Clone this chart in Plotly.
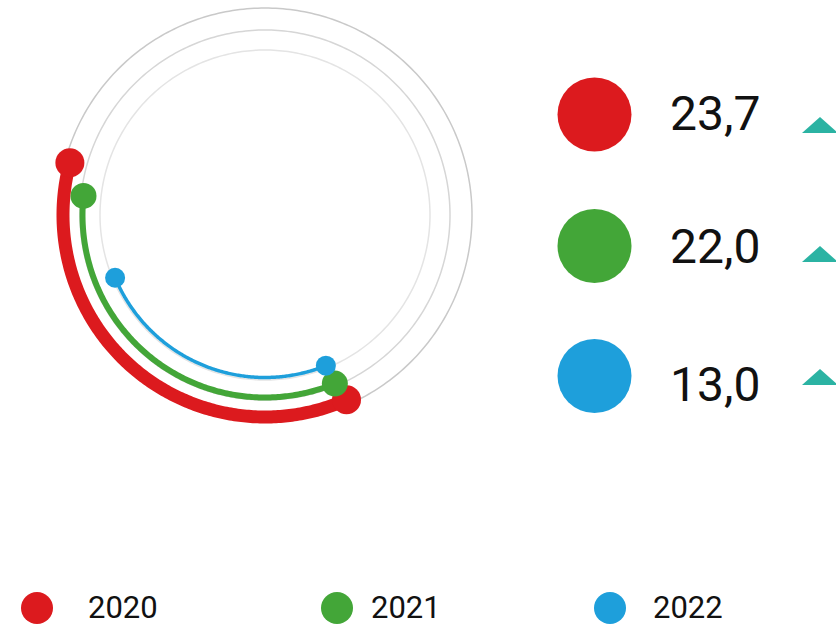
import numpy as np
import plotly.graph_objects as go

# ---- data ----
years = ["2020", "2021", "2022"]
values = [23.7, 22.0, 13.0]
arc_start_deg = [165.0, 174.0, 202.7]
arc_end_deg = [293.8, 292.5, 292.0]
series_colors = ["#dc1a1e", "#43a638", "#1e9fdb"]
trend = ["up", "up", "up"]

# ---- styling ----
W, H = 836, 628
CX, CY, RMAX = 265, 215, 210            # polar centre / radius in px
arc_radius = [202, 182.5, 162.5]
arc_width = [13, 6, 3.5]
dot_size = [29, 26, 20]
ring_radius = [207, 185, 165]
ring_color = ["#c9c9c9", "#d6d6d6", "#e4e4e4"]
TEAL = "#2bb3a3"

fig = go.Figure()

# background rings
for rr, rc in zip(ring_radius, ring_color):
    th = np.linspace(0, 360, 361)
    fig.add_trace(go.Scatterpolar(r=[rr] * len(th), theta=th, mode="lines",
                                  line=dict(color=rc, width=1.5),
                                  hoverinfo="skip", showlegend=False))

# arcs + end dots
for i in range(len(values)):
    th = np.linspace(arc_start_deg[i], arc_end_deg[i], 200)
    fig.add_trace(go.Scatterpolar(r=[arc_radius[i]] * len(th), theta=th, mode="lines",
                                  line=dict(color=series_colors[i], width=arc_width[i]),
                                  name=years[i], showlegend=False))
for i in range(len(values)):
    fig.add_trace(go.Scatterpolar(r=[arc_radius[i]] * 2,
                                  theta=[arc_start_deg[i], arc_end_deg[i]],
                                  mode="markers",
                                  marker=dict(color=series_colors[i], size=dot_size[i]),
                                  showlegend=False, hoverinfo="skip"))

# right-hand value list (pixel-coordinate overlay axis)
row_y = [114.5, 246, 376]
text_y = [113, 246, 384]
tri_y = [125, 254, 377]
fig.add_trace(go.Scatter(x=[594.5] * 3, y=row_y, mode="markers",
                         marker=dict(color=series_colors, size=74),
                         showlegend=False, hoverinfo="skip"))
for i, v in enumerate(values):
    label = f"{v:.1f}".replace(".", ",")
    fig.add_annotation(x=668, y=text_y[i], xref="x", yref="y", text=label,
                       showarrow=False, xanchor="left", yanchor="middle",
                       font=dict(family="Roboto", size=48, color="#111111"))
    if trend[i] == "up":
        cx, cy, w, h = 820, tri_y[i], 36, 16
        fig.add_shape(type="path", xref="x", yref="y",
                      path=f"M {cx - w/2} {cy + h/2} L {cx} {cy - h/2} L {cx + w/2} {cy + h/2} Z",
                      fillcolor=TEAL, line=dict(width=0))

# bottom legend
leg_dot_x = [37, 337, 610]
leg_y = 608
fig.add_trace(go.Scatter(x=leg_dot_x, y=[leg_y] * 3, mode="markers",
                         marker=dict(color=series_colors, size=32),
                         showlegend=False, hoverinfo="skip"))
leg_text_x = [86, 369, 651]
for i, yr in enumerate(years):
    fig.add_annotation(x=leg_text_x[i], y=leg_y - 1, xref="x", yref="y", text=yr,
                       showarrow=False, xanchor="left", yanchor="middle",
                       font=dict(family="Roboto", size=31, color="#111111"))

fig.update_layout(
    width=W, height=H, margin=dict(l=0, r=0, t=0, b=0),
    paper_bgcolor="white", plot_bgcolor="rgba(0,0,0,0)",
    polar=dict(
        domain=dict(x=[(CX - RMAX) / W, (CX + RMAX) / W],
                    y=[(H - CY - RMAX) / H, (H - CY + RMAX) / H]),
        bgcolor="rgba(0,0,0,0)",
        radialaxis=dict(range=[0, RMAX], visible=False),
        angularaxis=dict(visible=False, direction="counterclockwise", rotation=0),
    ),
    xaxis=dict(range=[0, W], visible=False, domain=[0, 1], fixedrange=True),
    yaxis=dict(range=[H, 0], visible=False, domain=[0, 1], fixedrange=True),
    showlegend=False,
)

fig.write_html("out.html")
